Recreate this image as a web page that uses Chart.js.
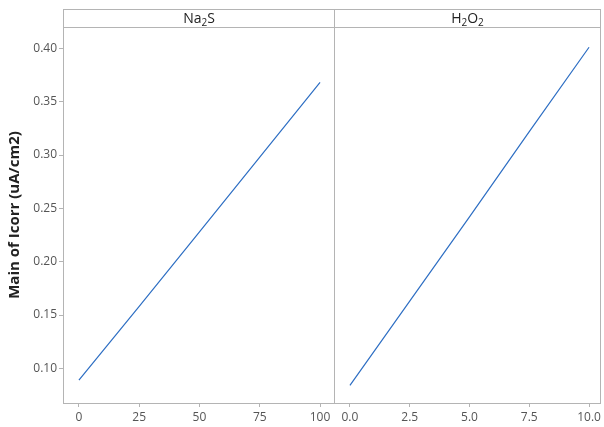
<!DOCTYPE html>
<html>
<head>
<meta charset="utf-8">
<script src="https://cdn.jsdelivr.net/npm/chart.js@4"></script>
<style>
  body { margin: 0; background: #fff; }
  #wrap { position: relative; width: 604px; height: 427px; }
  canvas { position: absolute; top: 0; }
</style>
</head>
<body>
<div id="wrap">
  <canvas id="left" width="335" height="427" style="left:0;width:335px;height:427px"></canvas>
  <canvas id="right" width="270" height="427" style="left:334px;width:270px;height:427px"></canvas>
</div>
<script>
// data
const na2sLevels = [0, 25, 50, 75, 100];
const na2sMeans = [0.089, 0.158, 0.228, 0.298, 0.368];
const h2o2Levels = [0, 2.5, 5, 7.5, 10];
const h2o2Means = [0.084, 0.163, 0.242, 0.322, 0.401];

const yTicks = [0.10, 0.15, 0.20, 0.25, 0.30, 0.35, 0.40];
const na2sTicks = [0, 25, 50, 75, 100];
const h2o2Ticks = [0, 2.5, 5, 7.5, 10];

const yTitle = "Main of Icorr (uA/cm2)";
const FONT = "'Open Sans', 'Noto Sans', sans-serif";
const frameColor = "#b4b4b4";
const lineColor = "rgb(45,110,195)";

// panel header strip + frame
function panelPlugin(parts) {
  return {
    id: "panel",
    afterDraw(chart) {
      const ctx = chart.ctx;
      const a = chart.chartArea;
      const top = 9;
      ctx.save();
      ctx.strokeStyle = frameColor;
      ctx.lineWidth = 1;
      ctx.strokeRect(a.left + 0.5, top + 0.5, a.right - a.left - 1, a.bottom - top);
      ctx.beginPath();
      ctx.moveTo(a.left, a.top + 0.5);
      ctx.lineTo(a.right, a.top + 0.5);
      ctx.stroke();
      // title text with subscripts
      const big = "14px " + FONT, small = "10px " + FONT;
      let w = 0;
      parts.forEach(p => { ctx.font = p.sub ? small : big; w += ctx.measureText(p.t).width; });
      let x = (a.left + a.right) / 2 - w / 2;
      const yb = 23;
      ctx.fillStyle = "#222";
      ctx.textBaseline = "alphabetic";
      parts.forEach(p => {
        ctx.font = p.sub ? small : big;
        ctx.fillText(p.t, x, p.sub ? yb + 3 : yb);
        x += ctx.measureText(p.t).width;
      });
      ctx.restore();
    }
  };
}

function makeChart(id, levels, means, xTicks, xMin, xMax, fmt, showY, parts, pad) {
  new Chart(document.getElementById(id).getContext("2d"), {
    type: "line",
    data: {
      datasets: [{
        data: levels.map((x, i) => ({ x: x, y: means[i] })),
        borderColor: lineColor,
        borderWidth: 1.2,
        pointRadius: 0,
        fill: false,
        tension: 0
      }]
    },
    options: {
      responsive: false,
      animation: false,
      layout: { padding: pad },
      plugins: { legend: { display: false }, tooltip: { enabled: false } },
      scales: {
        x: {
          type: "linear",
          min: xMin,
          max: xMax,
          afterBuildTicks: s => { s.ticks = xTicks.map(v => ({ value: v })); },
          afterFit: s => { s.height = 24; },
          grid: { drawOnChartArea: false, drawTicks: true, tickLength: 4, color: frameColor },
          border: { display: true, color: frameColor },
          ticks: {
            padding: 3,
            color: "#555",
            font: { family: FONT, size: 12 },
            maxRotation: 0,
            callback: v => fmt(v)
          }
        },
        y: {
          display: showY,
          min: 0.0675,
          max: 0.42,
          afterBuildTicks: s => { s.ticks = yTicks.map(v => ({ value: v })); },
          afterFit: s => { s.width = showY ? 63 : 0; },
          grid: { drawOnChartArea: false, drawTicks: true, tickLength: 4, color: frameColor },
          border: { display: true, color: frameColor },
          title: {
            display: true,
            text: yTitle,
            color: "#222",
            font: { family: FONT, size: 15, weight: "bold" },
            padding: { top: 6, bottom: 4 }
          },
          ticks: {
            padding: 2,
            color: "#555",
            font: { family: FONT, size: 12 },
            callback: v => v.toFixed(2)
          }
        }
      }
    },
    plugins: [panelPlugin(parts)]
  });
}

makeChart("left", na2sLevels, na2sMeans, na2sTicks, -6.6, 106.2, v => String(v), true,
  [{ t: "Na" }, { t: "2", sub: true }, { t: "S" }], { top: 27, right: 0, left: 0, bottom: 0 });
makeChart("right", h2o2Levels, h2o2Means, h2o2Ticks, -0.667, 10.5, v => v.toFixed(1), false,
  [{ t: "H" }, { t: "2", sub: true }, { t: "O" }, { t: "2", sub: true }], { top: 27, right: 2, left: 0, bottom: 0 });
</script>
</body>
</html>
